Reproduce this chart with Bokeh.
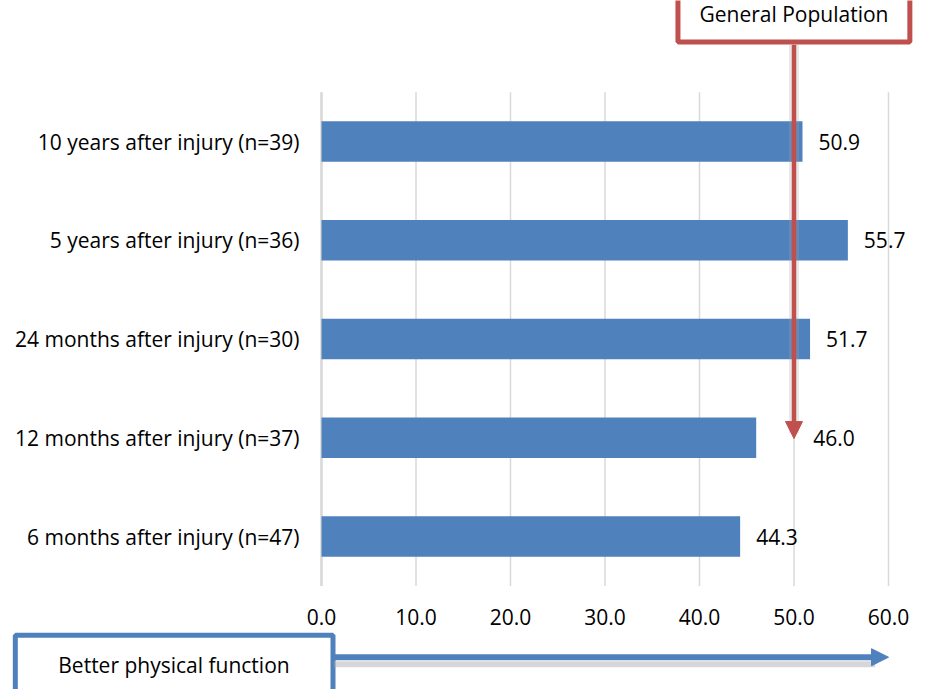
from bokeh.plotting import figure
from bokeh.models import Range1d, Arrow, NormalHead
from bokeh.core.properties import value
from bokeh.embed import file_html
from bokeh.resources import INLINE

categories = ["6 months after injury (n=47)", "12 months after injury (n=37)",
              "24 months after injury (n=30)", "5 years after injury (n=36)",
              "10 years after injury (n=39)"]
values = [44.3, 46.0, 51.7, 55.7, 50.9]
x_ticks = [0, 10, 20, 30, 40, 50, 60]
tick_labels = ["%.1f" % t for t in x_ticks]
value_labels = ["%.1f" % v for v in values]
general_population = 50.0
x_max = 60

# style: horizontal offsets (px) of the value labels (the 46.0 label sits right of the arrow)
label_offsets = [16, 57, 16, 16, 16]

FONT = value("Open Sans")
FS = "21px"
BLUE = "#4F81BD"
RED = "#C0504D"
GRID = "#D9D9D9"

ys = list(range(len(categories)))

# the frame covers the whole canvas so the call-out boxes and arrows are not clipped
p = figure(width=927, height=689, output_backend="svg", toolbar_location=None,
           x_range=Range1d(-33.968, 64.127), y_range=Range1d(-1.549, 5.428),
           min_border=0, x_axis_location=None, y_axis_location=None)
p.outline_line_color = None
p.grid.visible = False
p.background_fill_color = "white"
p.border_fill_color = "white"

y_lo, y_hi = -0.5, len(categories) - 0.5

# vertical gridlines and category axis line
p.segment(x0=x_ticks, x1=x_ticks, y0=[y_lo] * len(x_ticks), y1=[y_hi] * len(x_ticks),
          line_color=GRID, line_width=1.5)
p.segment(x0=[0], x1=[0], y0=[y_lo], y1=[y_hi], line_color=GRID, line_width=2.5)

# bars
p.hbar(y=ys, left=0, right=values, height=0.41, fill_color=BLUE, line_color=None)

# category labels
p.text(x=[0] * len(categories), y=ys, text=categories, x_offset=-22,
       text_align="right", text_baseline="middle", text_font=FONT,
       text_font_size=FS, text_color="#000000")

# x tick labels
p.text(x=x_ticks, y=[-0.815] * len(x_ticks), text=tick_labels,
       text_align="center", text_baseline="middle", text_font=FONT,
       text_font_size=FS, text_color="#000000")

# value labels
p.text(x=values, y=ys, text=value_labels, x_offset=label_offsets,
       text_align="left", text_baseline="middle", text_font=FONT,
       text_font_size=FS, text_color="#000000")

# General Population call-out
p.add_layout(Arrow(x_start=general_population, y_start=4.98,
                   x_end=general_population, y_end=1.05, end=None,
                   line_color="#A6A6A6", line_alpha=0.25, line_width=10))
p.add_layout(Arrow(x_start=general_population, y_start=4.98,
                   x_end=general_population, y_end=0.992,
                   end=NormalHead(size=17, fill_color=RED, line_color=RED, line_width=1),
                   line_color=RED, line_width=4.5))
p.quad(left=[37.72], right=[62.26], bottom=[5.008], top=[5.7],
       fill_color="white", line_color=RED, line_width=5)
p.text(x=[general_population], y=[5.291], text=["General Population"],
       text_align="center", text_baseline="middle", text_font=FONT,
       text_font_size=FS, text_color="#000000")

# Better physical function call-out
p.add_layout(Arrow(x_start=1.3, y_start=-1.293, x_end=58.6, y_end=-1.293, end=None,
                   line_color="#A6A6A6", line_alpha=0.45, line_width=6))
p.add_layout(Arrow(x_start=1.3, y_start=-1.222, x_end=x_max, y_end=-1.222,
                   end=NormalHead(size=17, fill_color=BLUE, line_color=BLUE, line_width=1),
                   line_color=BLUE, line_width=6))
p.quad(left=[-32.40], right=[1.217], top=[-1.0005], bottom=[-1.9],
       fill_color="white", line_color=BLUE, line_width=5)
p.text(x=[-15.61], y=[-1.296], text=["Better physical function"],
       text_align="center", text_baseline="middle", text_font=FONT,
       text_font_size=FS, text_color="#000000")

open("out.html", "w").write(file_html(p, INLINE))
